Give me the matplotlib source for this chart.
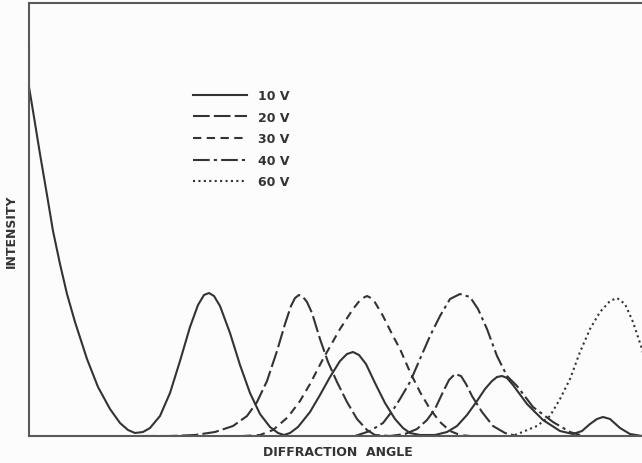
import matplotlib
matplotlib.use("Agg")
import matplotlib.pyplot as plt

# Data in arbitrary units: angle (0..613), intensity (0..433)
labels = ["10 V", "20 V", "30 V", "40 V", "60 V"]

x10 = [0, 0, 4, 11, 18, 24, 31, 38, 46, 58, 69, 81, 91, 99, 106, 114, 121, 131, 141, 151,
       161, 169, 175, 180, 185, 191, 201, 211, 221, 231, 241, 249, 255, 261, 269, 281, 291,
       301, 311, 318, 324, 330, 337, 346, 356, 366, 374, 381, 391, 406, 418, 428, 438, 448,
       456, 463, 468, 473, 478, 484, 498, 514, 531, 544, 553, 561, 568, 574, 581, 591, 601, 613]
y10 = [390, 349, 325, 282, 241, 205, 172, 142, 114, 77, 49, 27, 13, 6, 3, 4, 8, 20, 43, 75,
       109, 131, 141, 143, 140, 130, 103, 71, 43, 22, 9, 3, 1, 3, 9, 24, 41,
       59, 75, 82, 84, 81, 72, 53, 33, 17, 8, 3, 1, 1, 4, 10, 21, 35,
       47, 55, 59, 60, 58, 51, 32, 16, 5, 2, 5, 12, 17, 19, 17, 8, 2, 0]

x20 = [111, 141, 166, 186, 204, 218, 228, 238, 248, 256, 262, 266, 270, 274, 278, 283, 291,
       299, 308, 318, 328, 338, 346, 361, 376, 388, 398, 406, 414, 420, 426, 432, 437, 443,
       453, 464, 476, 488]
y20 = [0, 0, 1, 4, 10, 20, 34, 55, 85, 112, 130, 138, 141, 139, 134, 123, 97,
       74, 54, 34, 17, 6, 1, 0, 2, 7, 16, 27, 44, 56, 62, 60, 52, 40,
       24, 10, 3, 0]

x30 = [214, 231, 244, 259, 271, 281, 294, 311, 324, 332, 338, 344, 354, 364, 371, 381, 391,
       401, 411, 421, 431, 441]
y30 = [0, 1, 6, 19, 35, 52, 77, 107, 127, 137, 140, 137, 120, 100, 87, 64, 44,
       27, 14, 5, 1, 0]

x40 = [326, 341, 354, 364, 371, 381, 391, 401, 411, 421, 431, 441, 449, 458, 468, 478, 488,
       504, 524, 541, 551]
y40 = [0, 5, 13, 26, 37, 54, 77, 100, 120, 137, 142, 139, 127, 107, 80, 60, 50,
       29, 14, 4, 1]

x60 = [486, 491, 508, 521, 531, 541, 551, 561, 571, 581, 588, 596, 604, 613, 621]
y60 = [1, 3, 10, 20, 37, 57, 84, 107, 124, 135, 138, 132, 114, 87, 57]

series_x = [x10, x20, x30, x40, x60]
series_y = [y10, y20, y30, y40, y60]
styles = ["-", (0, (8, 2)), (0, (4, 2.6)), (0, (8, 2, 1.5, 2)), (0, (1, 1.6))]

ink = "#333333"
fig = plt.figure(figsize=(6.42, 4.64), dpi=100, facecolor="#fcfcfc")
ax = fig.add_axes([29 / 642, 1 - 437 / 464, 613 / 642, 433 / 464])
ax.set_facecolor("#fcfcfc")

handles = []
for xs, ys, ls, lab in zip(series_x, series_y, styles, labels):
    h, = ax.plot(xs, ys, color=ink, lw=1.5, linestyle=ls, label=lab,
                 solid_joinstyle="round", dash_joinstyle="round")
    handles.append(h)

ax.set_xlim(0, 613)
ax.set_ylim(0, 433)
ax.set_xticks([])
ax.set_yticks([])
for side in ["left", "bottom", "top"]:
    ax.spines[side].set_color("#5a5a5a")
    ax.spines[side].set_linewidth(1.5)
ax.spines["right"].set_visible(False)

leg = ax.legend(handles, labels, loc="upper left",
                bbox_to_anchor=(193 / 642, 1 - 90 / 464), bbox_transform=fig.transFigure,
                frameon=False, handlelength=4.3, handletextpad=0.9, labelspacing=0.69,
                borderpad=0, borderaxespad=0,
                prop={"family": "DejaVu Sans", "weight": "bold", "size": 9})
for t in leg.get_texts():
    t.set_color(ink)

fig.text(338 / 642, 1 - 453 / 464, "DIFFRACTION  ANGLE", ha="center", va="center",
         fontsize=9, fontweight="bold", color=ink, family="DejaVu Sans")
fig.text(11 / 642, 1 - 231 / 464, "INTENSITY", ha="center", va="center", rotation=90,
         fontsize=9, fontweight="bold", color=ink, family="DejaVu Sans")

fig.savefig("out.png", dpi=100, facecolor=fig.get_facecolor())
